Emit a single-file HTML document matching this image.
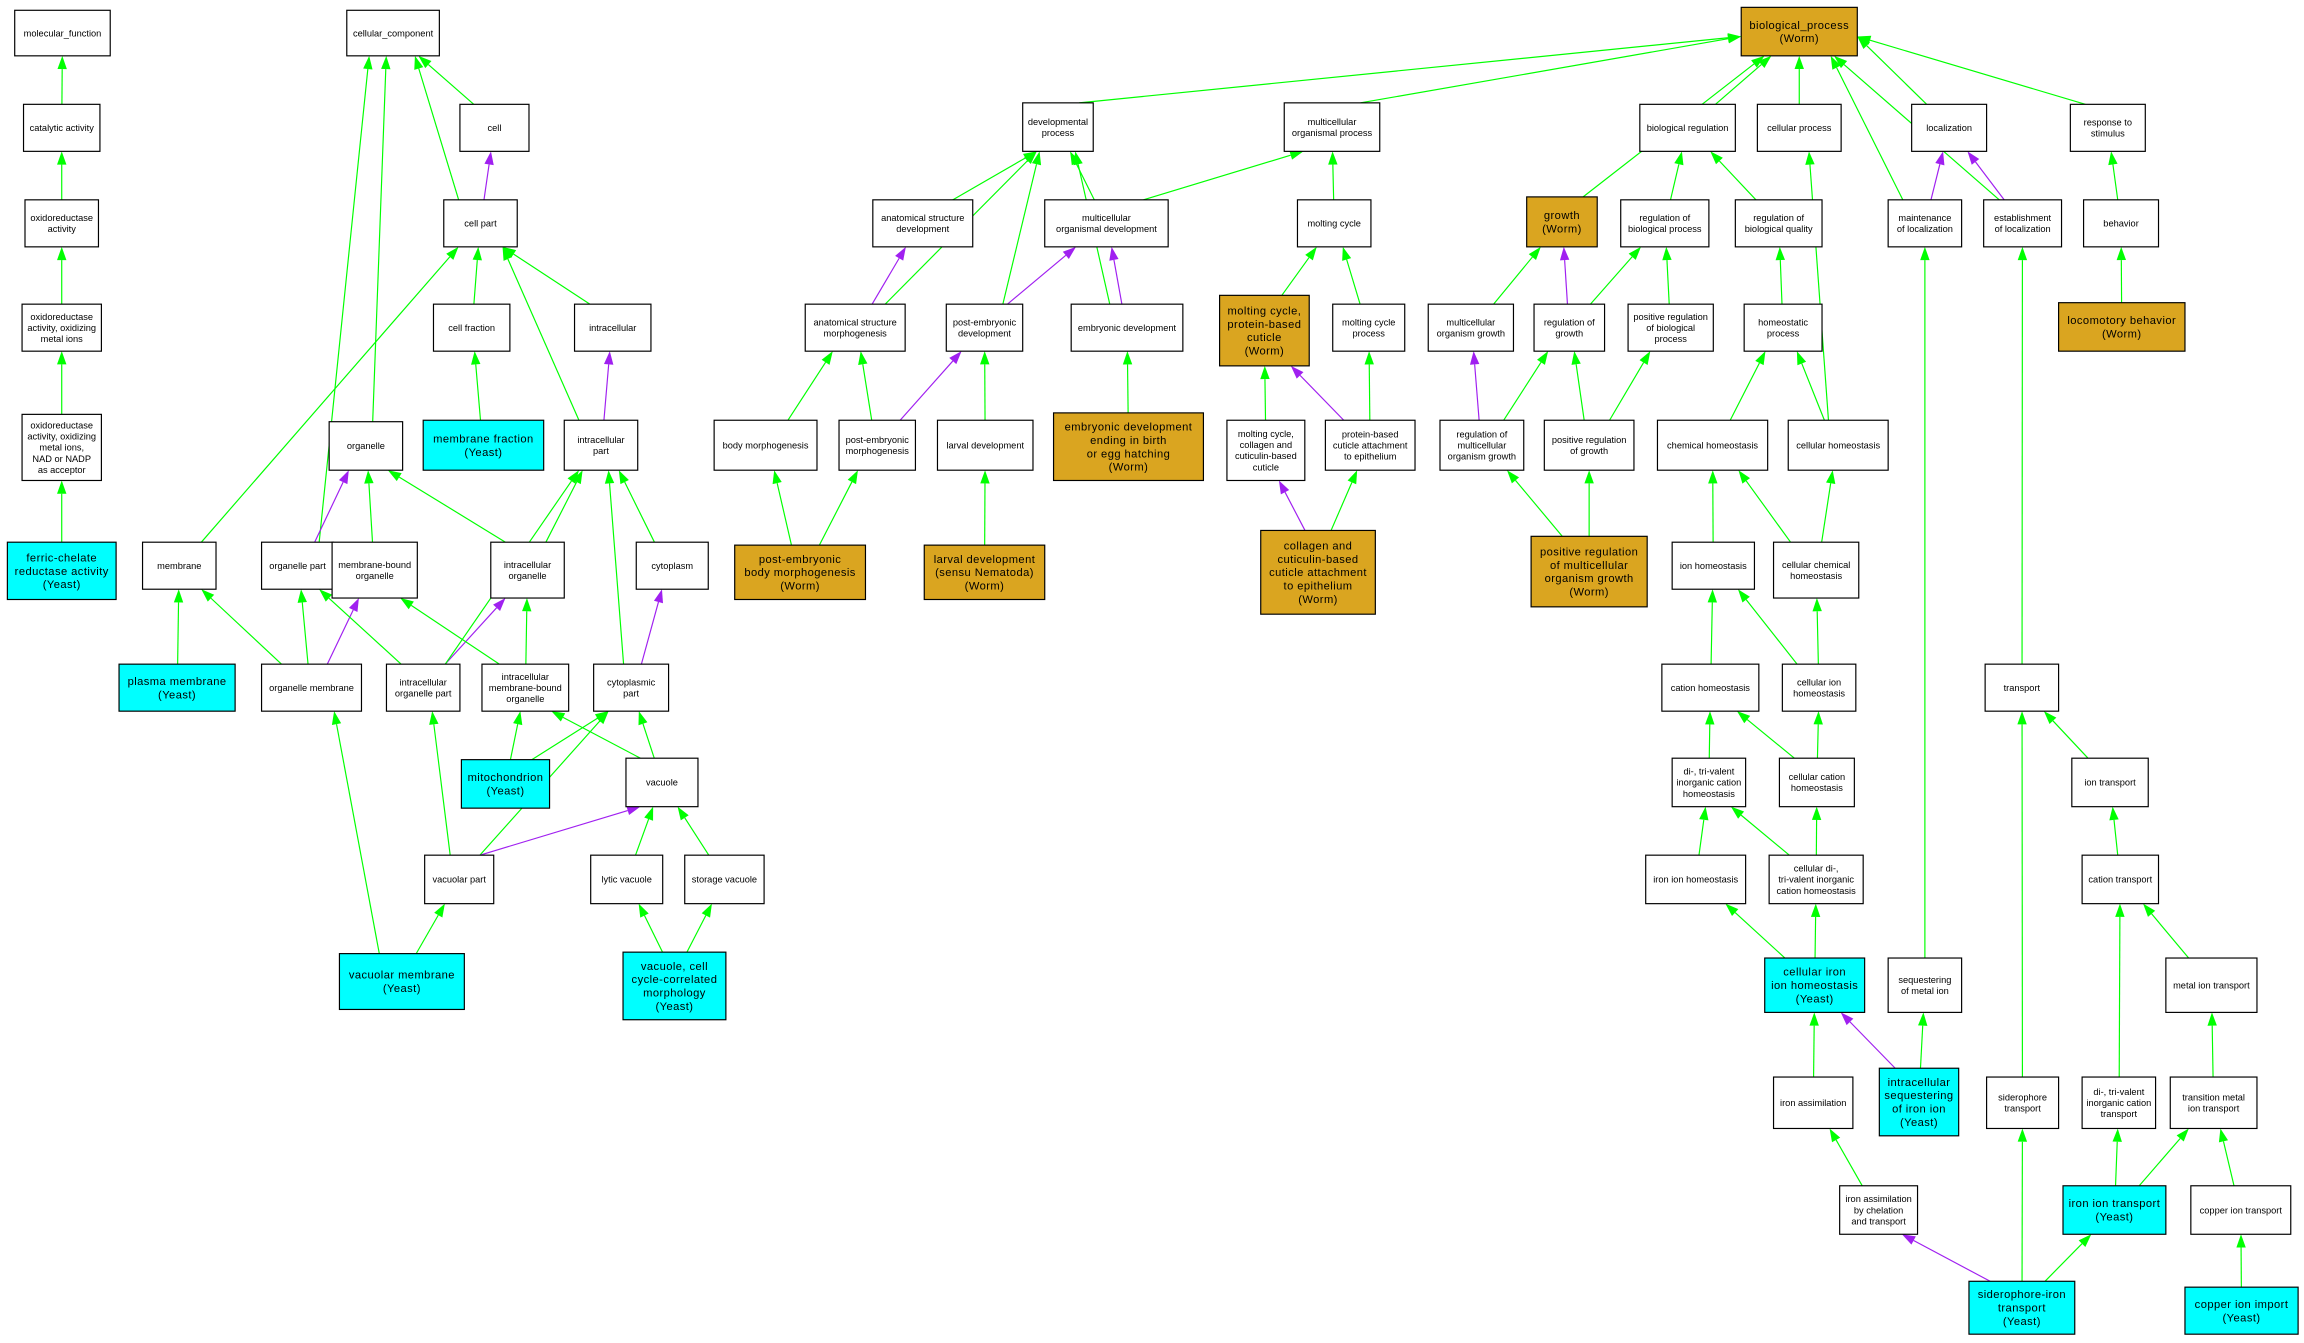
<!DOCTYPE html>
<html><head><meta charset="utf-8"><style>
html,body{margin:0;padding:0;background:#fff;}
svg{display:block}
text{font-family:"Liberation Sans",Arial,sans-serif;}
</style></head><body>
<svg id="g" width="2304" height="1343" viewBox="0 0 1568 914" xmlns="http://www.w3.org/2000/svg"></svg>
<script>
var W='#fff',C='#00ffff',G='#daa520';
var N={
mf:[10,7,75,38,'molecular_function',W],
ca:[16,71,68,103,'catalytic activity',W],
oa:[17,136,67,168,'oxidoreductase|activity',W],
om:[15,207,69,239,'oxidoreductase|activity, oxidizing|metal ions',W],
nad:[15,282,69,327,'oxidoreductase|activity, oxidizing|metal ions,|NAD or NADP|as acceptor',W],
fer:[5,369,79,408,'ferric-chelate|reductase activity|(Yeast)',C],
cc:[236,7,299,38,'cellular_component',W],
cell:[313,71,360,103,'cell',W],
cp:[302,136,352,168,'cell part',W],
cf:[295,207,347,239,'cell fraction',W],
ic:[391,207,443,239,'intracellular',W],
mfr:[288,286,370,320,'membrane fraction|(Yeast)',C],
org:[224,287,274,320,'organelle',W],
icp:[384,286,434,320,'intracellular|part',W],
mem:[97,369,147,401,'membrane',W],
orgp:[178,369,227,401,'organelle part',W],
mbo:[226,369,284,407,'membrane-bound|organelle',W],
ico:[334,369,384,407,'intracellular|organelle',W],
cyt:[433,369,482,401,'cytoplasm',W],
pm:[81,452,160,484,'plasma membrane|(Yeast)',C],
om2:[178,452,246,484,'organelle membrane',W],
iop:[263,452,313,484,'intracellular|organelle part',W],
imb:[328,452,387,484,'intracellular|membrane-bound|organelle',W],
cyp:[404,452,455,484,'cytoplasmic|part',W],
mit:[314,517,374,550,'mitochondrion|(Yeast)',C],
vac:[426,516,475,549,'vacuole',W],
vp:[289,582,336,615,'vacuolar part',W],
lv:[402,582,451,615,'lytic vacuole',W],
sv:[466,582,520,615,'storage vacuole',W],
vm:[231,649,316,687,'vacuolar membrane|(Yeast)',C],
vcc:[424,648,494,694,'vacuole, cell|cycle-correlated|morphology|(Yeast)',C],
bp:[1185,5,1264,38,'biological_process|(Worm)',G],
dp:[696,70,744,103,'developmental|process',W],
mop:[874,70,939,103,'multicellular|organismal process',W],
br:[1116,71,1181,103,'biological regulation',W],
cpr:[1196,71,1253,103,'cellular process',W],
loc:[1301,71,1352,103,'localization',W],
rs:[1409,71,1460,103,'response to|stimulus',W],
asd:[594,136,662,168,'anatomical structure|development',W],
mod:[711,136,795,168,'multicellular|organismal development',W],
mc:[883,136,933,168,'molting cycle',W],
gr:[1039,134,1087,168,'growth|(Worm)',G],
rbp:[1103,136,1163,168,'regulation of|biological process',W],
rbq:[1181,136,1240,168,'regulation of|biological quality',W],
mol:[1285,136,1335,168,'maintenance|of localization',W],
eol:[1350,136,1403,168,'establishment|of localization',W],
beh:[1418,136,1469,168,'behavior',W],
asm:[548,207,616,239,'anatomical structure|morphogenesis',W],
ped:[644,207,696,239,'post-embryonic|development',W],
emb:[729,207,805,239,'embryonic development',W],
mcp:[830,201,891,249,'molting cycle,|protein-based|cuticle|(Worm)',G],
mcpr:[907,207,956,239,'molting cycle|process',W],
mog:[972,207,1030,239,'multicellular|organism growth',W],
rg:[1044,207,1092,239,'regulation of|growth',W],
prbp:[1108,207,1166,239,'positive regulation|of biological|process',W],
hp:[1187,207,1240,239,'homeostatic|process',W],
lb:[1401,206,1487,239,'locomotory behavior|(Worm)',G],
bm:[486,286,556,320,'body morphogenesis',W],
pem:[571,286,623,320,'post-embryonic|morphogenesis',W],
ld:[638,286,703,320,'larval development',W],
ede:[717,281,819,327,'embryonic development|ending in birth|or egg hatching|(Worm)',G],
mcc:[835,286,888,327,'molting cycle,|collagen and|cuticulin-based|cuticle',W],
pca:[902,286,963,320,'protein-based|cuticle attachment|to epithelium',W],
rmg:[980,286,1037,320,'regulation of|multicellular|organism growth',W],
prg:[1051,286,1112,320,'positive regulation|of growth',W],
ch:[1128,286,1203,320,'chemical homeostasis',W],
ceh:[1217,286,1285,320,'cellular homeostasis',W],
pebm:[500,371,589,408,'post-embryonic|body morphogenesis|(Worm)',G],
lds:[629,371,711,408,'larval development|(sensu Nematoda)|(Worm)',G],
cca:[858,361,936,418,'collagen and|cuticulin-based|cuticle attachment|to epithelium|(Worm)',G],
prmg:[1042,365,1121,413,'positive regulation|of multicellular|organism growth|(Worm)',G],
ih:[1138,369,1194,401,'ion homeostasis',W],
cch:[1207,369,1265,407,'cellular chemical|homeostasis',W],
tr:[1351,452,1401,484,'transport',W],
cah:[1131,452,1197,484,'cation homeostasis',W],
cih:[1213,452,1263,484,'cellular ion|homeostasis',W],
dth:[1138,516,1188,549,'di-, tri-valent|inorganic cation|homeostasis',W],
ccah:[1211,516,1262,549,'cellular cation|homeostasis',W],
it:[1410,516,1462,549,'ion transport',W],
iih:[1120,582,1188,615,'iron ion homeostasis',W],
cdt:[1204,582,1268,615,'cellular di-,|tri-valent inorganic|cation homeostasis',W],
ct:[1417,582,1469,615,'cation transport',W],
ciih:[1201,652,1269,689,'cellular iron|ion homeostasis|(Yeast)',C],
smi:[1285,652,1335,689,'sequestering|of metal ion',W],
mit2:[1474,652,1536,689,'metal ion transport',W],
ia:[1207,733,1261,768,'iron assimilation',W],
isi:[1279,727,1333,773,'intracellular|sequestering|of iron ion|(Yeast)',C],
st:[1352,733,1401,768,'siderophore|transport',W],
dtt:[1417,733,1467,768,'di-, tri-valent|inorganic cation|transport',W],
tmt:[1477,733,1536,768,'transition metal|ion transport',W],
iac:[1252,807,1305,840,'iron assimilation|by chelation|and transport',W],
iit:[1404,807,1474,840,'iron ion transport|(Yeast)',C],
cit:[1491,807,1559,840,'copper ion transport',W],
sit:[1340,872,1412,908,'siderophore-iron|transport|(Yeast)',C],
cii:[1487,876,1564,908,'copper ion import|(Yeast)',C]
};
var E='ca mf g,oa ca g,om oa g,nad om g,fer nad g,cell cc g,cp cc g,cp cell p,org cc g,orgp cc g,cf cp g,ic cp g,icp cp g,mem cp g,icp ic p,mfr cf g,orgp org p,mbo org g,ico org g,ico icp g,cyt icp g,pm mem g,om2 mem g,om2 orgp g,om2 mbo p,iop orgp g,iop ico p,iop icp g,imb mbo g,imb ico g,cyp icp g,cyp cyt p,mit imb g,mit cyp g,vac imb g,vac cyp g,vp iop g,vp cyp g,vp vac p,lv vac g,sv vac g,vm om2 g,vm vp g,vcc lv g,vcc sv g,dp bp g,mop bp g,br bp g,cpr bp g,loc bp g,rs bp g,gr bp g,mol bp g,eol bp g,asd dp g,mod dp g,mod mop g,mc mop g,rbp br g,rbq br g,mol loc p,eol loc p,beh rs g,asm asd p,asm dp g,ped dp g,ped mod p,emb mod p,emb dp g,mcp mc g,mcpr mc g,mog gr g,rg gr p,rg rbp g,prbp rbp g,hp rbq g,lb beh g,bm asm g,pem asm g,pem ped p,ld ped g,ede emb g,mcc mcp g,pca mcp p,pca mcpr g,rmg mog p,rmg rg g,prg rg g,prg prbp g,ch hp g,ceh hp g,ceh cpr g,pebm bm g,pebm pem g,lds ld g,cca mcc p,cca pca g,prmg rmg g,prmg prg g,ih ch g,cch ch g,cch ceh g,cah ih g,cih ih g,cih cch g,dth cah g,ccah cah g,ccah cih g,iih dth g,cdt dth g,cdt ccah g,tr eol g,it tr g,ct it g,ciih iih g,ciih cdt g,smi mol g,mit2 ct g,ia ciih g,isi ciih p,isi smi g,st tr g,dtt ct g,tmt mit2 g,iac ia g,iit dtt g,iit tmt g,cit tmt g,sit iac p,sit st g,sit iit g,cii cit g';
var s='';
function cl(v,lo,hi){return Math.max(lo,Math.min(hi,v));}
E.split(',').forEach(function(e){
 var p=e.split(' '),a=N[p[0]],b=N[p[1]],col=p[2]=='g'?'#00ff00':'#a020f0';
 var ax=(a[0]+a[2])/2,bx=(b[0]+b[2])/2;
 var aw2=(a[2]-a[0])/2,bw2=(b[2]-b[0])/2;
 var sx=ax+cl((bx-ax)*0.25,-aw2*0.6,aw2*0.6), sy=a[1];
 var ex,ey;
 if(p[1]=='bp' && Math.abs(bx-ax)>3*(a[1]-b[3])){ // enters side
   ey=b[1]+(b[3]-b[1])*0.6; ex= ax<bx?b[0]:b[2];
 } else { ex=bx+cl((ax-bx)*0.25,-bw2*0.6,bw2*0.6); ey=b[3]; }
 var dx=ex-sx,dy=ey-sy,L=Math.hypot(dx,dy);dx/=L;dy/=L;
 var al=9,aw=3.2,bx0=ex-dx*al,by0=ey-dy*al;
 s+='<line x1="'+sx+'" y1="'+sy+'" x2="'+bx0+'" y2="'+by0+'" stroke="'+col+'" stroke-width="0.8"/>';
 s+='<polygon points="'+ex+','+ey+' '+(bx0-dy*aw)+','+(by0+dx*aw)+' '+(bx0+dy*aw)+','+(by0-dx*aw)+'" fill="'+col+'"/>';
});
for(var k in N){var b=N[k];var big=b[5]!=W;var fs=big?7.6:6.3;
 s+='<rect x="'+b[0]+'" y="'+b[1]+'" width="'+(b[2]-b[0])+'" height="'+(b[3]-b[1])+'" fill="'+b[5]+'" stroke="#000" stroke-width="0.8"/>';
 var ls=b[4].split('|'),lh=fs*1.2,cx=(b[0]+b[2])/2,cy=(b[1]+b[3])/2,y0=cy-(ls.length-1)*lh/2+fs*0.35;
 ls.forEach(function(l,i){s+='<text x="'+cx+'" y="'+(y0+i*lh)+'" font-size="'+fs+'" text-anchor="middle"'+(big?' letter-spacing="0.3"':'')+'>'+l+'</text>';});
}
document.getElementById('g').innerHTML=s;
</script>
</body></html>
